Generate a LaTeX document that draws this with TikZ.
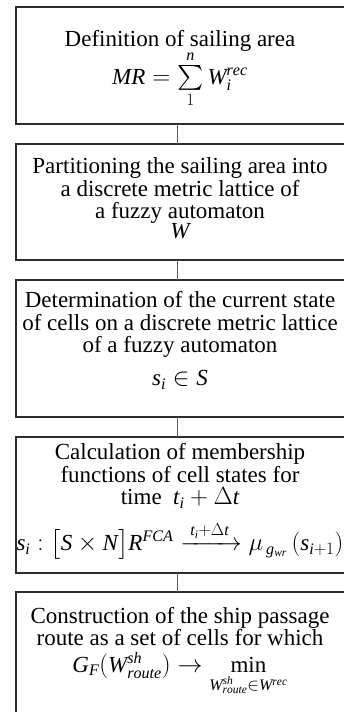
\documentclass[tikz,border=0pt]{standalone}
\usepackage{amsmath}
\usepackage{fontspec}
\setmainfont{Liberation Serif}
\newfontfamily\mathserif{Liberation Serif}[NFSSFamily=libserif]
\DeclareSymbolFont{serifit}{TU}{libserif}{m}{it}
\newcommand\setmathletter[1]{\DeclareMathSymbol{#1}{\mathalpha}{serifit}{`#1}}
\makeatletter
\@tfor\ltr:=abcdefghijklmnopqrstuvwxyzABCDEFGHIJKLMNOPQRSTUVWXYZ\do{%
  \expandafter\setmathletter\expandafter{\ltr}}
\makeatother
\newcommand\lowpad[1]{\rule[-#1]{0pt}{#1}}
\newcommand\toppad[1]{\rule{0pt}{#1}}
\usepackage{tikz}
\usetikzlibrary{positioning}
\definecolor{boxline}{RGB}{45,45,45}
\definecolor{linkgrey}{RGB}{95,95,95}
\tikzset{
  stepbox/.style={align=flush center,text width=328pt,inner xsep=0pt,inner ysep=2pt,
                  outer sep=0pt,font=\fontsize{23}{22.5}\selectfont},
  frame/.style={draw=boxline,line width=1.3pt},
  link/.style={draw=linkgrey,line width=1pt},
}
\begin{document}
\begin{tikzpicture}[x=1pt,y=1pt,node distance=20pt]
  \useasboundingbox (0,0) rectangle (344,712);
  \clip (0,0) rectangle (344,712);
  \node[stepbox,anchor=north,minimum height=117pt] (area) at (180,705)
    {\toppad{24pt}Definition of sailing area\\[-2pt]
     $MR=\sum\limits_{1}^{n}W_i^{rec}$};

  \node[stepbox,below=of area,minimum height=116pt] (lattice)
    {Partitioning the sailing area into\\
     a discrete metric lattice of\\
     a fuzzy automaton\\[-3pt]
     $W$\lowpad{8pt}};

  \node[stepbox,below=of lattice,minimum height=137pt] (state)
    {Determination of the current state\\
     of cells on a discrete metric lattice\\
     of a fuzzy automaton\\[10pt]
     $s_i\in S$\lowpad{20pt}};

  \node[stepbox,below=of state,minimum height=136pt] (member)
    {Calculation of membership\\
     functions of cell states for\\
     time\ \ $t_i+\Delta t$\\[12pt]
     $s_i:\bigl[S\times N\bigr]R^{FCA}\xrightarrow{\;t_i+\Delta t\;}\mu_{\,g_{wr}}\,(s_{i+1})$\lowpad{16pt}};

  \node[stepbox,below=19pt of member,inner ysep=15pt] (route)
    {Construction of the ship passage\\
     route as a set of cells for which\\[4pt]
     $G_F(W^{sh}_{route})\to\min\limits_{W^{sh}_{route}\in W^{rec}}$};

  \foreach \n in {area,lattice,state,member}
    \draw[frame] ([xshift=30pt]\n.north east) -- (\n.north west)
      -- (\n.south west) -- ([xshift=30pt]\n.south east);
  \draw[frame] ([xshift=30pt]route.north east) -- (route.north west)
    -- ([yshift=-30pt]route.south west);

  \draw[link] ([xshift=-3pt]area.south) -- ([xshift=-3pt]lattice.north);
  \draw[link] ([xshift=-3pt]lattice.south) -- ([xshift=-3pt]state.north);
  \draw[link] ([xshift=-3pt]state.south) -- ([xshift=-3pt]member.north);
  \draw[link] ([xshift=-3pt]member.south) -- ([xshift=-3pt]route.north);
\end{tikzpicture}
\end{document}
